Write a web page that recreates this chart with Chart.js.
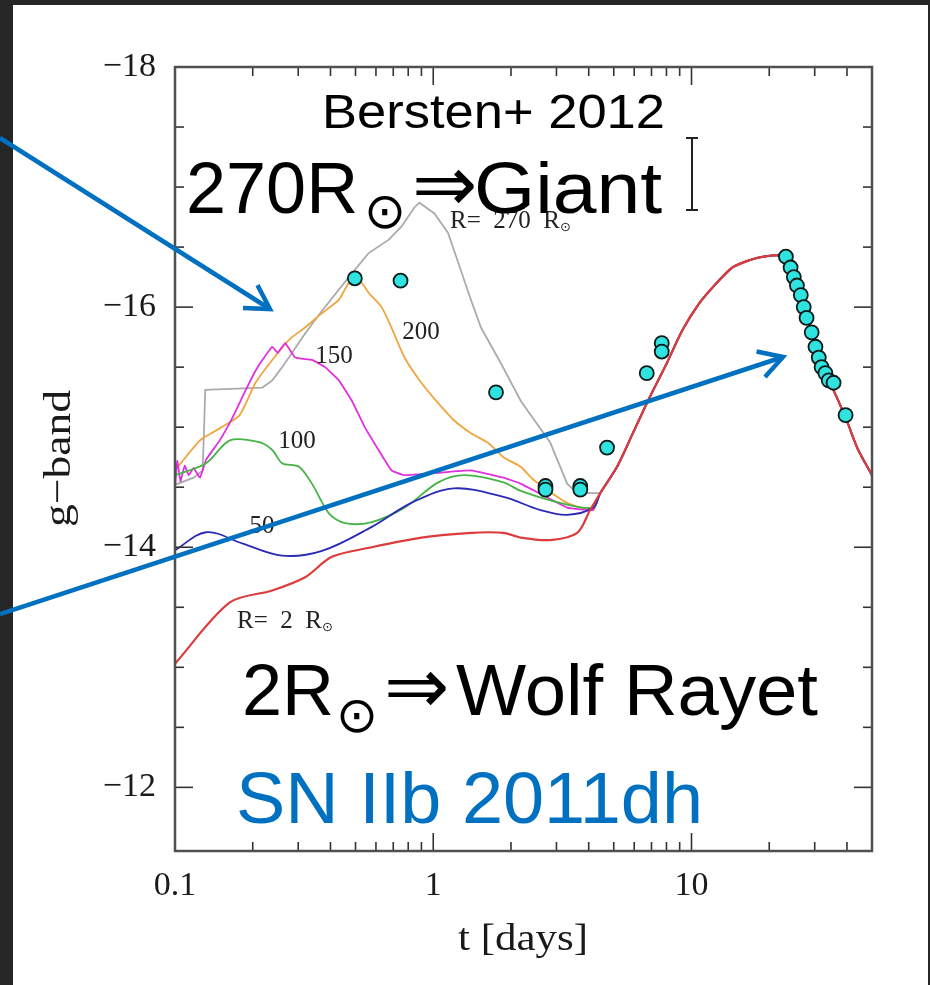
<!DOCTYPE html>
<html>
<head>
<meta charset="utf-8">
<script src="https://cdn.jsdelivr.net/npm/chart.js@4.4.1/dist/chart.umd.min.js"></script>
<style>
  html, body { margin: 0; padding: 0; background: #262626; overflow: hidden; }
  canvas { display: block; }
</style>
</head>
<body>
<canvas id="c" width="930" height="985"></canvas>
<script>
// ---- model light curves (time since explosion in days, g-band absolute magnitude) ----
// R = 2 Rsun, early part
const tR2 = [0.1, 0.163, 0.238, 0.319, 0.405, 0.578, 0.9, 1.4, 1.87, 2.18, 2.84, 3.61, 4.05];
const mR2 = [-13.03, -13.54, -13.64, -13.75, -13.92, -14.0, -14.08, -14.12, -14.12, -14.08, -14.06, -14.12, -14.31];
// R = 50 Rsun
const tR50 = [0.1, 0.132, 0.183, 0.26, 0.371, 0.578, 0.823, 1.2, 1.87, 2.6, 3.3, 4.16];
const mR50 = [-13.975, -14.125, -14.03, -13.93, -13.97, -14.17, -14.37, -14.49, -14.42, -14.31, -14.27, -14.33];
// R = 100 Rsun
const tR100 = [0.1, 0.132, 0.163, 0.212, 0.238, 0.26, 0.302, 0.339, 0.395, 0.455, 0.578, 0.774, 1.045, 1.32, 1.87, 2.18, 3.1, 4.16];
const mR100 = [-14.6, -14.7, -14.89, -14.875, -14.81, -14.7, -14.67, -14.53, -14.28, -14.2, -14.21, -14.33, -14.54, -14.6, -14.54, -14.47, -14.37, -14.33];
// R = 150 Rsun
const tR150 = [0.1, 0.1, 0.1, 0.102, 0.105, 0.109, 0.113, 0.118, 0.125, 0.132, 0.149, 0.167, 0.188, 0.205, 0.218, 0.238, 0.25, 0.267, 0.292, 0.339, 0.381, 0.431, 0.484, 0.543, 0.614, 0.689, 0.774, 1.045, 1.4, 1.87, 2.18, 3.3, 4.16];
const mR150 = [-14.12, -14.7, -14.5, -14.72, -14.55, -14.68, -14.6, -14.66, -14.58, -14.73, -14.89, -15.08, -15.31, -15.47, -15.56, -15.67, -15.62, -15.7, -15.58, -15.56, -15.5, -15.39, -15.22, -15.0, -14.81, -14.64, -14.6, -14.62, -14.64, -14.58, -14.53, -14.33, -14.31];
// R = 200 Rsun
const tR200 = [0.1, 0.125, 0.149, 0.178, 0.205, 0.238, 0.277, 0.319, 0.371, 0.431, 0.471, 0.515, 0.562, 0.631, 0.689, 0.774, 0.899, 1.045, 1.2, 1.4, 1.63, 1.87, 2.18, 2.45, 3.3, 4.16];
const mR200 = [-14.64, -14.89, -14.99, -15.1, -15.37, -15.56, -15.73, -15.83, -15.95, -16.06, -16.2, -16.23, -16.12, -16.0, -15.83, -15.58, -15.37, -15.2, -15.06, -14.95, -14.87, -14.75, -14.67, -14.56, -14.37, -14.31];
// R = 270 Rsun
const tR270 = [0.1, 0.118, 0.128, 0.131, 0.218, 0.238, 0.26, 0.284, 0.319, 0.371, 0.471, 0.562, 0.671, 0.753, 0.845, 0.884, 1.01, 1.14, 1.25, 1.40, 1.53, 1.83, 2.18, 2.84, 3.3, 3.61];
const mR270 = [-14.52, -14.58, -14.64, -15.31, -15.33, -15.39, -15.5, -15.62, -15.78, -15.97, -16.25, -16.45, -16.56, -16.67, -16.83, -16.87, -16.78, -16.62, -16.37, -16.06, -15.83, -15.53, -15.22, -14.87, -14.53, -14.45];
// nickel-powered second peak, common to all models
const tLate = [4.43, 5.15, 5.93, 6.89, 8.01, 9.23, 10.7, 12.5, 14.4, 16.7, 19.0, 22.0, 23.5, 25.0, 27.2, 29.2, 31.9, 34.0, 36.5, 40.0, 44.0, 50];
const mLate = [-14.45, -14.67, -14.95, -15.25, -15.53, -15.81, -16.03, -16.2, -16.33, -16.39, -16.42, -16.43, -16.38, -16.2, -16.0, -15.79, -15.5, -15.39, -15.25, -15.05, -14.82, -14.6];

// ---- SN 2011dh g-band photometry ----
const obsT = [0.497, 0.747, 1.75, 2.72, 2.72, 3.71, 3.71, 4.71, 6.71, 7.67, 7.67, 23.2, 24.2, 24.9, 25.6, 26.5, 27.2, 27.9, 29.2, 30.2, 31.1, 31.9, 33.0, 34.0, 35.5, 39.5];
const obsM = [-16.24, -16.22, -15.29, -14.51, -14.48, -14.51, -14.48, -14.83, -15.45, -15.7, -15.63, -16.42, -16.33, -16.25, -16.18, -16.1, -16.0, -15.91, -15.79, -15.67, -15.58, -15.5, -15.45, -15.39, -15.37, -15.1];

// ---- axis ticks ----
const xMajorTicks = [0.1, 1, 10];
const xMinorTicks = [0.2, 0.3, 0.4, 0.5, 0.6, 0.7, 0.8, 0.9, 2, 3, 4, 5, 6, 7, 8, 9, 20, 30, 40];
const xTickLabels = ['0.1', '1', '10'];
const yMajorTicks = [-18, -16, -14, -12];
const yMinorTicks = [-17.5, -17, -16.5, -15.5, -15, -14.5, -13.5, -13, -12.5];
const yTickLabels = ['\u221218', '\u221216', '\u221214', '\u221212'];

const SERIF = '"Liberation Serif", "DejaVu Serif", serif';
const SANS = '"Liberation Sans", Arial, sans-serif';
const SYM = '"DejaVu Sans", sans-serif';

function curve(ts, ms, withLate) {
  const pts = ts.map((t, i) => ({ x: t, y: ms[i] }));
  if (withLate) tLate.forEach((t, i) => pts.push({ x: t, y: mLate[i] }));
  return pts;
}
function model(ts, ms, color, order, tension, width) {
  return {
    type: 'line', data: curve(ts, ms, true), borderColor: color, borderWidth: width || 1.8,
    pointRadius: 0, fill: false, tension: tension, order: order
  };
}

function seg(c, x0, y0, x1, y1) { c.beginPath(); c.moveTo(x0, y0); c.lineTo(x1, y1); c.stroke(); }

function arrow(c, x0, y0, x1, y1) {
  seg(c, x0, y0, x1, y1);
  const a = Math.atan2(y1 - y0, x1 - x0), L = 27, s = Math.PI / 6;
  c.beginPath();
  c.moveTo(x1 - L * Math.cos(a - s), y1 - L * Math.sin(a - s));
  c.lineTo(x1, y1);
  c.lineTo(x1 - L * Math.cos(a + s), y1 - L * Math.sin(a + s));
  c.stroke();
}

// text stretched horizontally to a given width
function fitText(c, txt, x, base, font, width) {
  c.font = font;
  const w = c.measureText(txt).width;
  c.save(); c.translate(x, base); c.scale(width / w, 1); c.fillText(txt, 0, 0); c.restore();
}

// "R=  270  R" followed by a small sun symbol as subscript
function radiusLabel(c, txt, x, y) {
  c.font = '25px ' + SERIF; c.textAlign = 'left'; c.textBaseline = 'middle';
  c.fillText(txt, x, y);
  const w = c.measureText(txt).width;
  c.font = '13px ' + SYM;
  c.fillText('\u2299', x + w, y + 7);
}

// big annotation: lead text, sun subscript, double arrow, tail text
function bigLabel(c, o) {
  c.textAlign = 'left'; c.textBaseline = 'alphabetic';
  c.font = '72px ' + SANS;
  c.fillText(o.lead, o.x, o.base);
  c.font = '50px ' + SYM; c.textAlign = 'center';
  c.fillText('\u2299', o.sunX, o.base + o.sunDy);
  c.textAlign = 'left';
  c.font = '78px ' + SYM;
  c.fillText('\u21D2', o.arrX, o.base - 2);
  fitText(c, o.tail, o.tailX, o.base, '72px ' + SANS, o.tailW);
}

const decor = {
  id: 'decor',
  beforeDraw(chart) {
    const c = chart.ctx;
    c.save();
    c.fillStyle = '#262626'; c.fillRect(0, 0, 930, 985);
    c.fillStyle = '#ffffff'; c.fillRect(13, 5, 915, 980);
    c.restore();
  },
  afterDatasetsDraw(chart) {
    const c = chart.ctx, xs = chart.scales.x, ys = chart.scales.y;
    const { left, right, top, bottom } = chart.chartArea;
    c.save();
    // inward ticks on all four sides
    c.strokeStyle = '#333'; c.lineWidth = 1.6;
    xMajorTicks.forEach(v => { const p = xs.getPixelForValue(v); seg(c, p, bottom, p, bottom - 18); seg(c, p, top, p, top + 18); });
    xMinorTicks.forEach(v => { const p = xs.getPixelForValue(v); seg(c, p, bottom, p, bottom - 9); seg(c, p, top, p, top + 9); });
    yMajorTicks.forEach(v => { const p = ys.getPixelForValue(v); seg(c, left, p, left + 18, p); seg(c, right, p, right - 18, p); });
    yMinorTicks.forEach(v => { const p = ys.getPixelForValue(v); seg(c, left, p, left + 9, p); seg(c, right, p, right - 9, p); });
    // frame
    c.strokeStyle = '#505050'; c.lineWidth = 2.5;
    c.strokeRect(left, top, right - left, bottom - top);
    // tick labels
    c.fillStyle = '#1a1a1a'; c.font = '34px ' + SERIF;
    c.textAlign = 'right'; c.textBaseline = 'middle';
    yMajorTicks.forEach((v, i) => c.fillText(yTickLabels[i], left - 19, ys.getPixelForValue(v)));
    c.textAlign = 'center';
    xMajorTicks.forEach((v, i) => c.fillText(xTickLabels[i], xs.getPixelForValue(v), bottom + 35));
    // axis titles
    c.textAlign = 'left';
    fitText(c, 't [days]', 458, 940, '38px ' + SERIF, 130);
    c.save();
    c.translate(60, 527); c.rotate(-Math.PI / 2);
    fitText(c, 'g\u2212band', 0, 0, '38px ' + SERIF, 137);
    c.restore();
    // curve labels
    c.fillStyle = '#222'; c.font = '25px ' + SERIF; c.textAlign = 'center';
    c.fillText('200', 421, 332);
    c.fillText('150', 334, 356);
    c.fillText('100', 297, 441);
    c.fillText('50', 262, 526);
    radiusLabel(c, 'R=  270  R', 450, 221);
    radiusLabel(c, 'R=  2  R', 237, 621);
    c.restore();
  },
  afterDraw(chart) {
    const c = chart.ctx;
    c.save();
    // size scale bar
    c.strokeStyle = '#222'; c.lineWidth = 2;
    seg(c, 692, 138, 692, 210); seg(c, 686, 138, 698, 138); seg(c, 686, 210, 698, 210);
    // headings
    c.fillStyle = '#000'; c.textAlign = 'left'; c.textBaseline = 'alphabetic';
    fitText(c, 'Bersten+ 2012', 322, 128, '49px ' + SANS, 343);
    bigLabel(c, { lead: '270R', x: 186, base: 213, sunX: 385, sunDy: 15, arrX: 412, tail: 'Giant', tailX: 474, tailW: 188 });
    bigLabel(c, { lead: '2R', x: 242, base: 715, sunX: 357, sunDy: 17, arrX: 384, tail: 'Wolf Rayet', tailX: 456, tailW: 362 });
    c.fillStyle = '#0070c0';
    fitText(c, 'SN IIb 2011dh', 236, 823, '72px ' + SANS, 467);
    // arrows
    c.strokeStyle = '#0070c0'; c.lineWidth = 4.5; c.lineCap = 'butt'; c.lineJoin = 'miter';
    arrow(c, 0, 138, 270, 309);
    arrow(c, 0, 614, 783, 357);
    c.restore();
  }
};

new Chart(document.getElementById('c'), {
  data: {
    datasets: [
      { type: 'scatter', data: curve(obsT, obsM, false), pointRadius: 7, pointBackgroundColor: '#2fe3e0',
        pointBorderColor: '#0c1a1a', pointBorderWidth: 1.8, order: 0 },
      model(tR270, mR270, '#ababab', 6, 0),
      model(tR200, mR200, '#f0a640', 5, 0.2),
      model(tR150, mR150, '#e030e0', 4, 0.1),
      model(tR100, mR100, '#46b446', 3, 0.3),
      model(tR50, mR50, '#2a2ab4', 2, 0.35),
      model(tR2, mR2, '#dc3c3c', 1, 0.3, 2.2)
    ]
  },
  options: {
    responsive: false, animation: false, devicePixelRatio: 1, events: [],
    layout: { padding: { left: 175, right: 58, top: 67, bottom: 134 } },
    plugins: { legend: { display: false }, tooltip: { enabled: false } },
    scales: {
      x: { type: 'logarithmic', min: 0.1, max: 50, display: false },
      y: { type: 'linear', min: -18, max: -11.47, reverse: true, display: false }
    }
  },
  plugins: [decor]
});
</script>
</body>
</html>
